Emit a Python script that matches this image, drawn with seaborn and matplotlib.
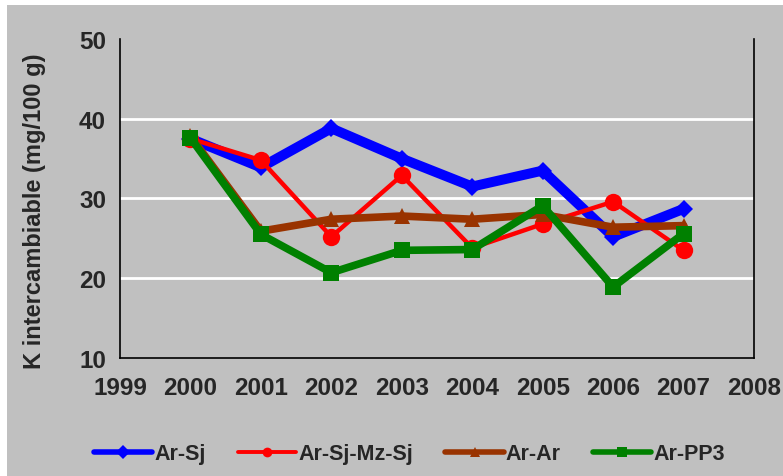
import matplotlib
matplotlib.use("Agg")
import matplotlib.pyplot as plt
from matplotlib.patches import Rectangle
from matplotlib.lines import Line2D
import seaborn as sns
import pandas as pd

years = [2000, 2001, 2002, 2003, 2004, 2005, 2006, 2007]
ar_sj = [37.5, 33.9, 38.8, 35.0, 31.5, 33.5, 25.2, 28.7]
ar_sj_mz_sj = [37.5, 34.8, 25.2, 32.9, 23.8, 26.8, 29.6, 23.5]
ar_ar = [37.8, 25.9, 27.4, 27.8, 27.4, 28.0, 26.4, 26.6]
ar_pp3 = [37.6, 25.5, 20.7, 23.5, 23.6, 29.1, 18.9, 25.6]
series_names = ["Ar-Sj", "Ar-Sj-Mz-Sj", "Ar-Ar", "Ar-PP3"]
x_ticks = list(range(1999, 2009))
y_ticks = [10, 20, 30, 40, 50]
ylabel = "K intercambiable (mg/100 g)"

sns.set_style("white")
plt.rcParams["font.family"] = ["Liberation Sans", "DejaVu Sans"]
plt.rcParams["font.weight"] = "bold"

df = pd.DataFrame({"year": years * 4,
                   "value": ar_sj + ar_sj_mz_sj + ar_ar + ar_pp3,
                   "serie": sum([[n] * len(years) for n in series_names], [])})

fig = plt.figure(figsize=(7.83, 4.77), dpi=100)
fig.patch.set_facecolor("white")
fig.patches.append(Rectangle((7 / 783, 0.0), 1.0, 1 - 6 / 477, transform=fig.transFigure,
                             facecolor="#c0c0c0", edgecolor="none", zorder=-10))
ax = fig.add_axes([120 / 783, 1 - 359 / 477, (754 - 120) / 783, (359 - 40) / 477])
ax.set_facecolor("#c0c0c0")

styles = {
    "Ar-Sj": dict(color="#0000ff", lw=7.2, marker="D", ms=9, llw=4.0),
    "Ar-Sj-Mz-Sj": dict(color="#ff0000", lw=3.2, marker="o", ms=12.5, llw=2.8),
    "Ar-Ar": dict(color="#993300", lw=5.5, marker="^", ms=11, llw=4.0),
    "Ar-PP3": dict(color="#008000", lw=5.5, marker="s", ms=12, llw=4.0),
}
for i, n in enumerate(series_names):
    st = styles[n]
    sub = df[df["serie"] == n]
    sns.lineplot(data=sub, x="year", y="value", ax=ax, color=st["color"], linewidth=st["lw"],
                 marker=st["marker"], markersize=st["ms"], markeredgewidth=0,
                 zorder=3 + i, legend=False)

ax.set_xlim(1999, 2008)
ax.set_ylim(10, 50)
ax.set_xticks(x_ticks)
ax.set_yticks(y_ticks)
ax.set_xticklabels([str(t) for t in x_ticks], fontsize=17.5, fontweight="bold")
ax.set_yticklabels([str(t) for t in y_ticks], fontsize=17.5, fontweight="bold")
ax.set_xlabel("")
ax.set_ylabel(ylabel, fontsize=17, fontweight="bold")
ax.yaxis.set_label_coords(-(120 - 46) / 634, 0.464)
for y in [20, 30, 40]:
    ax.axhline(y, color="white", lw=2, zorder=1)
ax.spines["top"].set_visible(False)
for s in ["left", "bottom", "right"]:
    ax.spines[s].set_color("black")
    ax.spines[s].set_linewidth(1.2)
ax.tick_params(axis="both", direction="out", length=6, width=1.2, color="black", pad=4)
ax.tick_params(axis="x", pad=7)

hs = [Line2D([], [], color=styles[n]["color"], lw=styles[n]["llw"], marker=styles[n]["marker"],
             ms=7, markeredgewidth=0, solid_capstyle="round") for n in series_names]
fig.legend(hs, series_names, loc="center", bbox_to_anchor=(0.523, 1 - 455 / 477), ncol=4,
           frameon=False, prop={"size": 15.5, "weight": "bold"}, handlelength=2.7,
           handletextpad=0.1, columnspacing=1.5)

fig.savefig("out.png", dpi=100, facecolor=fig.get_facecolor())
